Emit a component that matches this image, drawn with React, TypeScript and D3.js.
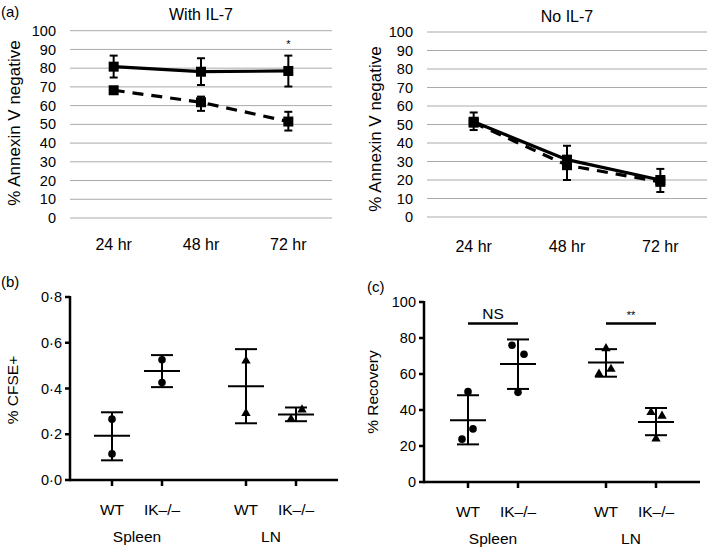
import * as d3 from "d3";

// ---- panel (a) data ----
const timepoints = ["24 hr", "48 hr", "72 hr"];
const withIL7Solid = [80.8, 78.1, 78.5];
const withIL7SolidLo = [75, 71, 70.2];
const withIL7SolidHi = [86.7, 85.3, 86.7];
const withIL7Dashed = [68.2, 61.8, 51.5];
const withIL7DashedLo = [67.5, 57.2, 46.7];
const withIL7DashedHi = [68.9, 64.8, 56.7];
const noIL7Solid = [51.5, 31, 20];
const noIL7SolidLo = [47, 20, 13.5];
const noIL7SolidHi = [56.5, 38.5, 26];
const noIL7Dashed = [51, 28, 19];
const annexTicks = [0, 10, 20, 30, 40, 50, 60, 70, 80, 90, 100];

// ---- panels (b) and (c) data ----
const tissues = ["Spleen", "LN"];
const genotypes = ["WT", "IK\u2013/\u2013"];
const cfsePoints = [[0.266, 0.114], [0.526, 0.426], [0.521, 0.292], [0.266, 0.307]];
const cfseMean = [0.193, 0.477, 0.41, 0.286];
const cfseLo = [0.086, 0.406, 0.248, 0.257];
const cfseHi = [0.296, 0.546, 0.572, 0.317];
const cfseTicks = [0, 0.2, 0.4, 0.6, 0.8];
const recPoints = [[50.2, 23.8, 29.5], [76, 71, 49.8], [74.2, 60, 62.7], [38.7, 36.7, 24]];
const recMean = [34.3, 65.5, 66.4, 33.4];
const recLo = [20.9, 51.7, 58.5, 26];
const recHi = [48.2, 79.2, 73.8, 41.1];
const recTicks = [0, 20, 40, 60, 80, 100];

// horizontal jitter (px) of the dots, per group
const cfseJitter = [[0, 0], [0, 0], [0, 0], [-5, 6]];
const recJitter = [[0, -6, 5], [-6, 6, 0], [0, -7, 5], [-5, 6, 0]];

const FONT = "'Liberation Sans', Arial, Helvetica, sans-serif";

type LineProps = {
  x0: number; x1: number; yTop: number; yBot: number;
  title: string; titleY: number; labelX: number; labelY: number; tickLabelY: number;
  solid: number[]; solidLo: number[]; solidHi: number[];
  dashed: number[]; dashedLo?: number[]; dashedHi?: number[];
  star?: number;
};

function LinePanel(p: LineProps) {
  const x = d3.scalePoint<string>().domain(timepoints).range([p.x0, p.x1]).padding(0.5);
  const y = d3.scaleLinear().domain([0, 100]).range([p.yBot, p.yTop]);
  const line = d3.line<number>().x((_, i) => x(timepoints[i])!).y((d) => y(d));
  const sq = 10;
  const errBars = (lo: number[], hi: number[]) =>
    lo.map((l, i) => {
      const cx = x(timepoints[i])!;
      return (
        <g key={i} stroke="#000" strokeWidth={2}>
          <line x1={cx} x2={cx} y1={y(l)} y2={y(hi[i])} />
          <line x1={cx - 4} x2={cx + 4} y1={y(l)} y2={y(l)} />
          <line x1={cx - 4} x2={cx + 4} y1={y(hi[i])} y2={y(hi[i])} />
        </g>
      );
    });
  const squares = (vals: number[]) =>
    vals.map((v, i) => (
      <rect key={i} x={x(timepoints[i])! - sq / 2} y={y(v) - sq / 2} width={sq} height={sq} fill="#000" />
    ));
  return (
    <g fontFamily={FONT}>
      <text x={(p.x0 + p.x1) / 2} y={p.titleY} textAnchor="middle" fontSize={16}>{p.title}</text>
      {annexTicks.map((t) => (
        <g key={t}>
          <line x1={p.x0} x2={p.x1} y1={y(t)} y2={y(t)} stroke="#aaa" strokeWidth={1} />
          <text x={p.x0 - 14} y={y(t)} dy="0.35em" textAnchor="end" fontSize={14.5}>{t}</text>
        </g>
      ))}
      {timepoints.map((t) => (
        <text key={t} x={x(t)} y={p.tickLabelY} textAnchor="middle" fontSize={16}>{t}</text>
      ))}
      <text transform={`translate(${p.labelX},${p.labelY}) rotate(-90)`} textAnchor="middle" dy="0.35em" fontSize={17}>
        % Annexin V negative
      </text>
      <path d={line(p.dashed)!} fill="none" stroke="#000" strokeWidth={3.2} strokeDasharray="11,8" />
      {p.dashedLo && p.dashedHi && errBars(p.dashedLo, p.dashedHi)}
      {squares(p.dashed)}
      <path d={line(p.solid)!} fill="none" stroke="#000" strokeWidth={3.2} />
      {errBars(p.solidLo, p.solidHi)}
      {squares(p.solid)}
      {p.star !== undefined && (
        <text x={x(timepoints[2])} y={y(p.star)} dy="0.5em" textAnchor="middle" fontSize={11}>*</text>
      )}
    </g>
  );
}

type ScatterProps = {
  x0: number; x1: number; yTop: number; yBot: number;
  ticks: number[]; fmt: (v: number) => string; yLabel: string; labelX: number; labelY: number;
  points: number[][]; jitter: number[][]; mean: number[]; lo: number[]; hi: number[];
  tag: string; tagX: number;
  brackets?: { g0: number; g1: number; v: number; text: string; size: number }[];
};

function ScatterPanel(p: ScatterProps) {
  const y = d3.scaleLinear().domain([p.ticks[0], p.ticks[p.ticks.length - 1]]).range([p.yBot, p.yTop]);
  const outer = d3.scalePoint<string>().domain(tissues).range([p.x0, p.x1]).padding(0.5);
  const inner = d3.scalePoint<string>().domain(genotypes).range([-25, 25]);
  const gx = (gi: number) => outer(tissues[Math.floor(gi / 2)])! + inner(genotypes[gi % 2])!;
  const tri = d3.symbol(d3.symbolTriangle, 38);
  return (
    <g fontFamily={FONT}>
      <text x={p.tagX} y={p.yTop - 10} fontSize={15}>{p.tag}</text>
      <text transform={`translate(${p.labelX},${p.labelY}) rotate(-90)`} textAnchor="middle" dy="0.35em" fontSize={15.5}>
        {p.yLabel}
      </text>
      {p.ticks.map((t) => (
        <g key={t}>
          <line x1={p.x0 - 5} x2={p.x0} y1={y(t)} y2={y(t)} stroke="#000" strokeWidth={2.5} />
          <text x={p.x0 - 8} y={y(t)} dy="0.35em" textAnchor="end" fontSize={14.5}>{p.fmt(t)}</text>
        </g>
      ))}
      <line x1={p.x0} x2={p.x0} y1={p.yTop - 1} y2={p.yBot + 1.25} stroke="#000" strokeWidth={2.5} />
      <line x1={p.x0} x2={p.x1} y1={p.yBot} y2={p.yBot} stroke="#000" strokeWidth={2.5} />
      {p.mean.map((_, gi) => (
        <g key={gi}>
          <line x1={gx(gi)} x2={gx(gi)} y1={p.yBot} y2={p.yBot + 6} stroke="#000" strokeWidth={2.5} />
          <text x={gx(gi)} y={p.yBot + 35} textAnchor="middle" fontSize={15.5}>{genotypes[gi % 2]}</text>
        </g>
      ))}
      {tissues.map((t) => (
        <text key={t} x={outer(t)} y={p.yBot + 62} textAnchor="middle" fontSize={15.5}>{t}</text>
      ))}
      {p.points.map((pts, gi) =>
        pts.map((v, j) => {
          const cx = gx(gi) + p.jitter[gi][j];
          return gi < 2 ? (
            <circle key={`${gi}-${j}`} cx={cx} cy={y(v)} r={3.8} fill="#000" />
          ) : (
            <path key={`${gi}-${j}`} d={tri()!} transform={`translate(${cx},${y(v)})`} fill="#000" />
          );
        })
      )}
      {p.mean.map((m, gi) => {
        const cx = gx(gi);
        return (
          <g key={gi} stroke="#000" strokeWidth={2}>
            <line x1={cx} x2={cx} y1={y(p.lo[gi])} y2={y(p.hi[gi])} />
            <line x1={cx - 11} x2={cx + 11} y1={y(p.lo[gi])} y2={y(p.lo[gi])} />
            <line x1={cx - 11} x2={cx + 11} y1={y(p.hi[gi])} y2={y(p.hi[gi])} />
            <line x1={cx - 18} x2={cx + 18} y1={y(m)} y2={y(m)} />
          </g>
        );
      })}
      {p.brackets?.map((b, i) => (
        <g key={i}>
          <line x1={gx(b.g0)} x2={gx(b.g1)} y1={y(b.v)} y2={y(b.v)} stroke="#000" strokeWidth={2.5} />
          <text x={(gx(b.g0) + gx(b.g1)) / 2} y={y(b.v) - 5} textAnchor="middle" fontSize={b.size}>{b.text}</text>
        </g>
      ))}
    </g>
  );
}

export default function App() {
  const dot = (v: number) => d3.format(".1f")(v).replace(".", "\u00b7");
  return (
    <svg width={709} height={550} style={{ position: "absolute", left: 0, top: 0, background: "#fff" }}>
      <text x={1} y={17} fontSize={15} fontFamily={FONT}>(a)</text>
      <LinePanel
        x0={70} x1={332} yTop={30.7} yBot={218} title="With IL-7" titleY={20}
        labelX={14} labelY={123} tickLabelY={250}
        solid={withIL7Solid} solidLo={withIL7SolidLo} solidHi={withIL7SolidHi}
        dashed={withIL7Dashed} dashedLo={withIL7DashedLo} dashedHi={withIL7DashedHi}
        star={93.6}
      />
      <LinePanel
        x0={427} x1={707} yTop={32} yBot={217} title="No IL-7" titleY={22}
        labelX={375} labelY={129} tickLabelY={252}
        solid={noIL7Solid} solidLo={noIL7SolidLo} solidHi={noIL7SolidHi}
        dashed={noIL7Dashed}
      />
      <ScatterPanel
        x0={70} x1={338} yTop={297} yBot={480} ticks={cfseTicks} fmt={dot}
        yLabel="% CFSE+" labelX={13} labelY={390}
        points={cfsePoints} jitter={cfseJitter} mean={cfseMean} lo={cfseLo} hi={cfseHi}
        tag="(b)" tagX={1}
      />
      <ScatterPanel
        x0={424} x1={700} yTop={302} yBot={482} ticks={recTicks} fmt={(v) => String(v)}
        yLabel="% Recovery" labelX={373} labelY={392}
        points={recPoints} jitter={recJitter} mean={recMean} lo={recLo} hi={recHi}
        tag="(c)" tagX={367}
        brackets={[
          { g0: 0, g1: 1, v: 88, text: "NS", size: 15.5 },
          { g0: 2, g1: 3, v: 88, text: "**", size: 11 },
        ]}
      />
    </svg>
  );
}
